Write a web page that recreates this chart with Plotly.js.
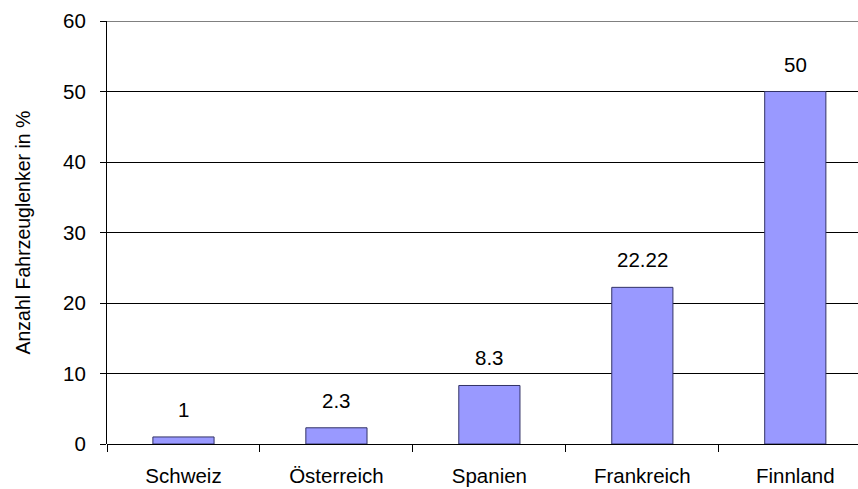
<!DOCTYPE html>
<html><head><meta charset="utf-8">
<script src="https://cdn.plot.ly/plotly-3.0.1.min.js"></script>
<style>html,body{margin:0;padding:0;background:#fff}</style>
</head><body><div id="chart" style="width:858px;height:489px"></div>
<script>
const categories = ["Schweiz", "Österreich", "Spanien", "Frankreich", "Finnland"];
const values = [1, 2.3, 8.3, 22.22, 50];
const valueLabels = ["1", "2.3", "8.3", "22.22", "50"];
const yTicks = [0, 10, 20, 30, 40, 50, 60];
const yTitle = "Anzahl Fahrzeuglenker in %";

const font = {family: "Liberation Sans, Arial, sans-serif", size: 20.5, color: "#000"};
const titleFont = {family: "Liberation Sans, Arial, sans-serif", size: 19.5, color: "#000"};

const trace = {
  type: "bar", x: categories, y: values, width: 0.4,
  marker: {color: "#9999FF", line: {color: "#333366", width: 1}},
  hoverinfo: "none"
};

const annotations = categories.map((c, i) => ({
  x: c, y: values[i], xref: "x", yref: "y", text: valueLabels[i],
  showarrow: false, yanchor: "bottom", yshift: 14, font: font
}));
annotations.push({
  x: 0, y: 0.5, xref: "paper", yref: "paper", text: yTitle,
  textangle: -90, showarrow: false, xanchor: "center", yanchor: "middle",
  xshift: -85, yshift: 0, font: titleFont
});

const layout = {
  width: 858, height: 489,
  margin: {l: 107, r: 0, t: 21, b: 45},
  paper_bgcolor: "#fff", plot_bgcolor: "#fff",
  font: font, showlegend: false,
  xaxis: {
    type: "category", range: [-0.5, 4.41],
    showline: false, ticks: "outside", tickson: "boundaries",
    ticklen: 7, tickcolor: "#000", tickwidth: 1,
    showgrid: false, zeroline: false, fixedrange: true,
    tickfont: font, ticklabelstandoff: 17
  },
  yaxis: {
    range: [0, 60], tickvals: yTicks, ticktext: yTicks.map(String),
    showline: true, linecolor: "#000", linewidth: 1,
    ticks: "outside", ticklen: 6, tickcolor: "#000",
    showgrid: true, gridcolor: "#000", gridwidth: 1,
    zeroline: true, zerolinecolor: "#000", zerolinewidth: 1,
    tickfont: font, ticklabelstandoff: 10
  },
  shapes: [{
    type: "line", xref: "paper", yref: "y", x0: 0, x1: 1,
    y0: yTicks[yTicks.length - 1], y1: yTicks[yTicks.length - 1],
    line: {color: "#808080", width: 2}
  }],
  annotations: annotations
};

Plotly.newPlot("chart", [trace], layout, {displayModeBar: false, staticPlot: true});
</script></body></html>
